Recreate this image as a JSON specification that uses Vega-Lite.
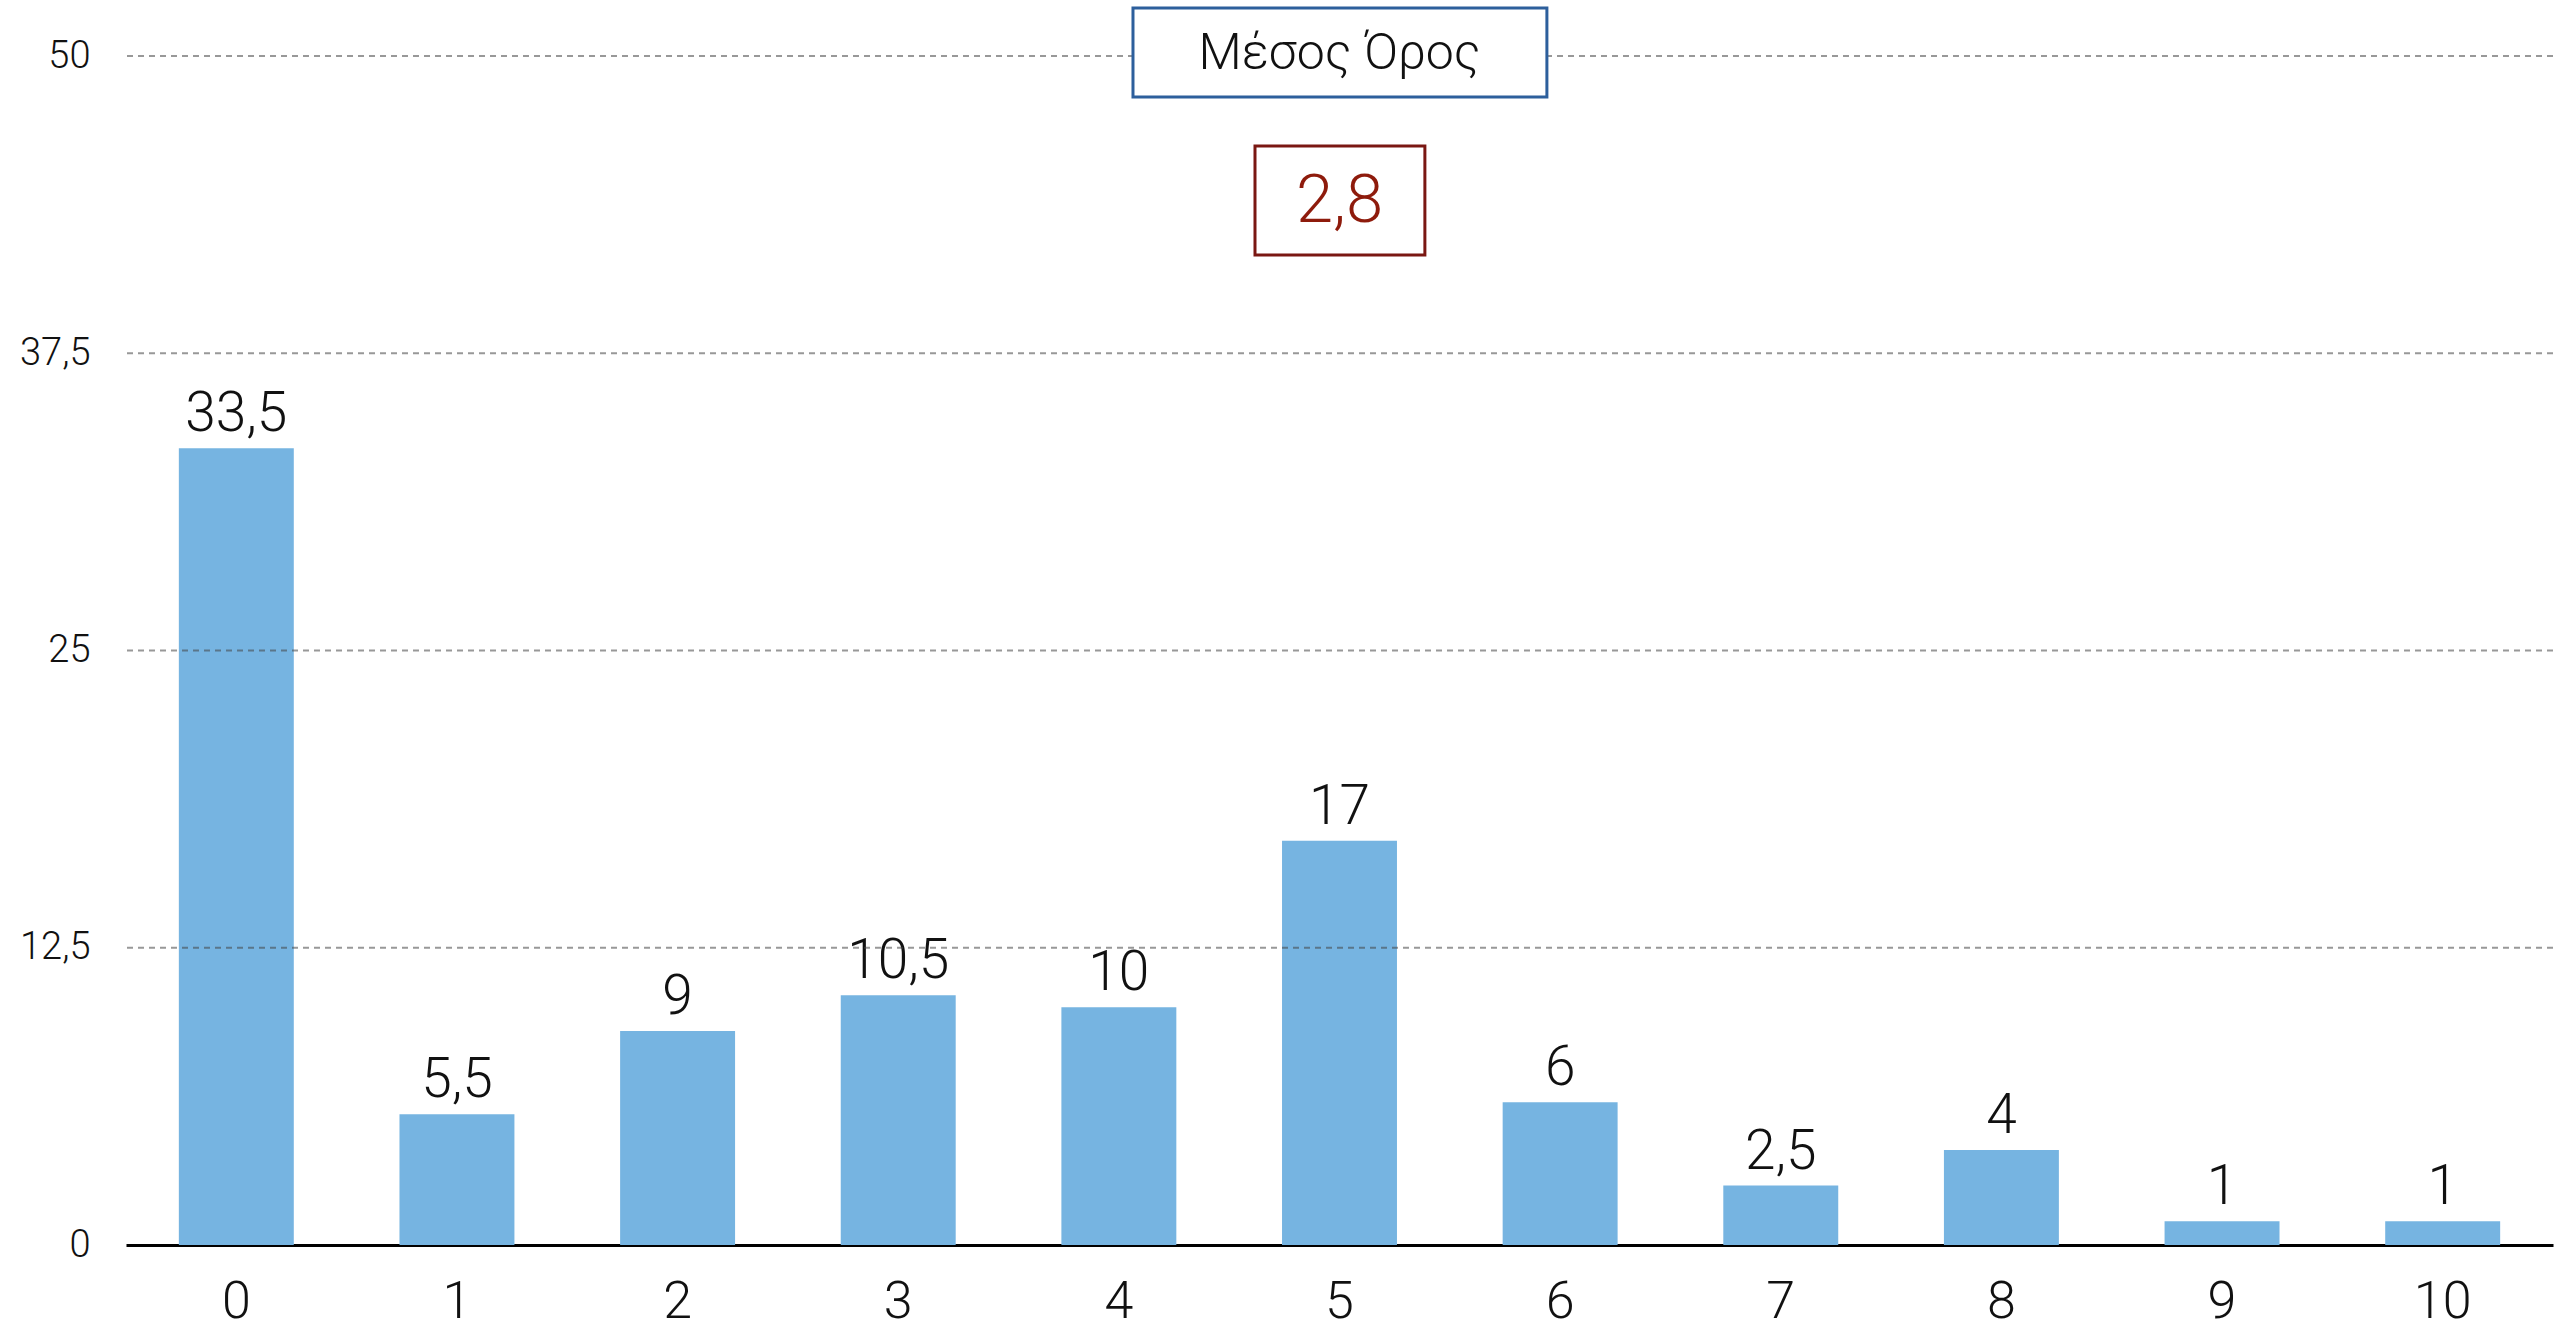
{
  "$schema": "https://vega.github.io/schema/vega-lite/v6.json",
  "width": 2427,
  "height": 1189,
  "autosize": {"type": "none"},
  "padding": {"left": 126, "top": 56, "right": 16, "bottom": 81},
  "background": "white",
  "config": {
    "view": {"stroke": null},
    "locale": {"number": {"decimal": ",", "thousands": ".", "grouping": [3], "currency": ["", " €"]}},
    "axis": {"labelFont": "Roboto", "labelFontWeight": 300, "labelColor": "#111111", "title": null},
    "text": {"font": "Roboto", "fontWeight": 300}
  },
  "layer": [
    {
      "data": {"values": [
        {"score": 0, "value": 33.5},
        {"score": 1, "value": 5.5},
        {"score": 2, "value": 9},
        {"score": 3, "value": 10.5},
        {"score": 4, "value": 10},
        {"score": 5, "value": 17},
        {"score": 6, "value": 6},
        {"score": 7, "value": 2.5},
        {"score": 8, "value": 4},
        {"score": 9, "value": 1},
        {"score": 10, "value": 1}
      ]},
      "encoding": {
        "x": {"field": "score", "type": "ordinal", "title": null,
              "scale": {"paddingInner": 0.479, "paddingOuter": 0.2395},
              "axis": {"labelAngle": 0, "labelFontSize": 52, "labelPadding": 31, "ticks": false,
                       "domain": true, "domainColor": "#000000", "domainWidth": 3, "grid": false}},
        "y": {"field": "value", "type": "quantitative", "title": null,
              "scale": {"domain": [0, 50], "nice": false},
              "axis": {"values": [0, 12.5, 25, 37.5, 50], "format": ".1~f", "labelFontSize": 38,
                       "labelPadding": 36, "ticks": false, "domain": false, "grid": false}}
      },
      "layer": [
        {
          "mark": {"type": "bar", "color": "#76b4e1"}
        },
        {
          "mark": {"type": "text", "fontSize": 55, "baseline": "alphabetic", "dy": -17, "color": "#111111"},
          "encoding": {
            "text": {"field": "value", "type": "quantitative", "format": ".1~f"}
          }
        }
      ]
    },
    {
      "data": {"values": [{"grid": 12.5}, {"grid": 25}, {"grid": 37.5}, {"grid": 50}]},
      "mark": {"type": "rule", "color": "#444444", "opacity": 0.55, "strokeWidth": 2, "strokeDash": [6, 5]},
      "encoding": {
        "y": {"field": "grid", "type": "quantitative", "title": null}
      }
    },
    {
      "data": {"values": [{"label": "Μέσος Όρος"}]},
      "layer": [
        {
          "mark": {"type": "rect", "fill": "white", "stroke": "#2d5f9c", "strokeWidth": 3},
          "encoding": {
            "x": {"datum": 4.564, "type": "quantitative", "scale": {"domain": [0, 11], "nice": false, "zero": false}, "axis": null},
            "x2": {"datum": 6.44},
            "y": {"datum": 52.02, "type": "quantitative"},
            "y2": {"datum": 48.28}
          }
        },
        {
          "mark": {"type": "text", "fontSize": 50, "baseline": "middle", "align": "center", "color": "#111111"},
          "encoding": {
            "x": {"datum": 5.5, "type": "quantitative", "scale": {"domain": [0, 11], "nice": false, "zero": false}, "axis": null},
            "y": {"datum": 50.1, "type": "quantitative"},
            "text": {"field": "label"}
          }
        }
      ]
    },
    {
      "data": {"values": [{"mean": 2.8}]},
      "layer": [
        {
          "mark": {"type": "rect", "fill": "white", "stroke": "#7a1712", "strokeWidth": 3},
          "encoding": {
            "x": {"datum": 5.117, "type": "quantitative", "scale": {"domain": [0, 11], "nice": false, "zero": false}, "axis": null},
            "x2": {"datum": 5.887},
            "y": {"datum": 46.22, "type": "quantitative"},
            "y2": {"datum": 41.63}
          }
        },
        {
          "mark": {"type": "text", "fontSize": 67, "baseline": "middle", "align": "center", "color": "#8e1b0c"},
          "encoding": {
            "x": {"datum": 5.5, "type": "quantitative", "scale": {"domain": [0, 11], "nice": false, "zero": false}, "axis": null},
            "y": {"datum": 43.86, "type": "quantitative"},
            "text": {"field": "mean", "type": "quantitative", "format": ".1~f"}
          }
        }
      ]
    }
  ],
  "resolve": {"scale": {"x": "independent"}}
}
